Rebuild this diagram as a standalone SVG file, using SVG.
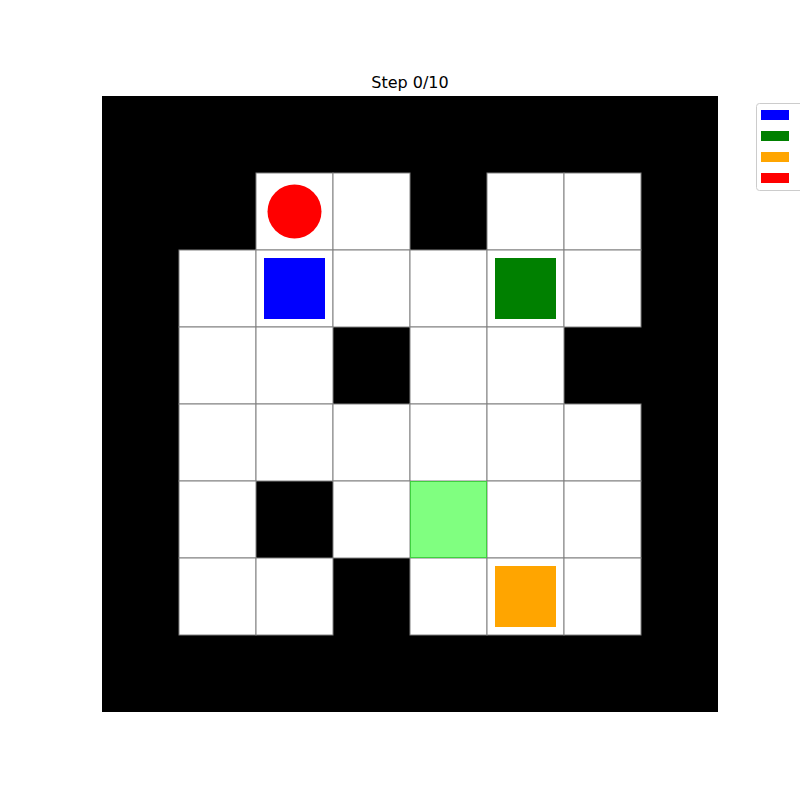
<svg xmlns="http://www.w3.org/2000/svg" width="800" height="800" viewBox="0 0 800 800">
<style>
.c{fill:#ffffff;stroke:#808080;stroke-width:1}
.p{stroke:none}
.t{font-family:"DejaVu Sans",sans-serif;font-size:16px;fill:#000}
</style>
<rect width="800" height="800" fill="#fff"/>
<text class="t" x="410" y="88" text-anchor="middle">Step 0/10</text>
<g id="grid">
<rect x="102" y="96" width="616" height="616" fill="#000"/>
<rect class="c" x="256" y="173" width="77" height="77"/>
<rect class="c" x="333" y="173" width="77" height="77"/>
<rect class="c" x="487" y="173" width="77" height="77"/>
<rect class="c" x="564" y="173" width="77" height="77"/>
<rect class="c" x="179" y="250" width="77" height="77"/>
<rect class="c" x="256" y="250" width="77" height="77"/>
<rect class="c" x="333" y="250" width="77" height="77"/>
<rect class="c" x="410" y="250" width="77" height="77"/>
<rect class="c" x="487" y="250" width="77" height="77"/>
<rect class="c" x="564" y="250" width="77" height="77"/>
<rect class="c" x="179" y="327" width="77" height="77"/>
<rect class="c" x="256" y="327" width="77" height="77"/>
<rect class="c" x="410" y="327" width="77" height="77"/>
<rect class="c" x="487" y="327" width="77" height="77"/>
<rect class="c" x="179" y="404" width="77" height="77"/>
<rect class="c" x="256" y="404" width="77" height="77"/>
<rect class="c" x="333" y="404" width="77" height="77"/>
<rect class="c" x="410" y="404" width="77" height="77"/>
<rect class="c" x="487" y="404" width="77" height="77"/>
<rect class="c" x="564" y="404" width="77" height="77"/>
<rect class="c" x="179" y="481" width="77" height="77"/>
<rect class="c" x="333" y="481" width="77" height="77"/>
<rect class="c" x="487" y="481" width="77" height="77"/>
<rect class="c" x="564" y="481" width="77" height="77"/>
<rect class="c" x="179" y="558" width="77" height="77"/>
<rect class="c" x="256" y="558" width="77" height="77"/>
<rect class="c" x="410" y="558" width="77" height="77"/>
<rect class="c" x="487" y="558" width="77" height="77"/>
<rect class="c" x="564" y="558" width="77" height="77"/>
</g>
<g id="goal">
<rect x="410.5" y="481.5" width="76" height="76" fill="#80ff80" stroke="#40d040" stroke-width="1"/>
</g>
<g id="agent-red"><circle cx="294.5" cy="211.5" r="27" fill="#ff0000"/></g>
<g id="agent-blue"><rect class="p" x="264" y="258" width="61" height="61" fill="#0000ff"/></g>
<g id="agent-green"><rect class="p" x="495" y="258" width="61" height="61" fill="#008000"/></g>
<g id="agent-orange"><rect class="p" x="495" y="566" width="61" height="61" fill="#ffa500"/></g>
<g id="legend">
<rect x="756.5" y="103.5" width="60" height="87" rx="3" fill="#fff" stroke="#cccccc" stroke-width="1"/>
<rect x="761" y="110" width="28" height="10" fill="#0000ff"/>
<rect x="761" y="131" width="28" height="10" fill="#008000"/>
<rect x="761" y="152" width="28" height="10" fill="#ffa500"/>
<rect x="761" y="173" width="28" height="10" fill="#ff0000"/>
</g>
</svg>
